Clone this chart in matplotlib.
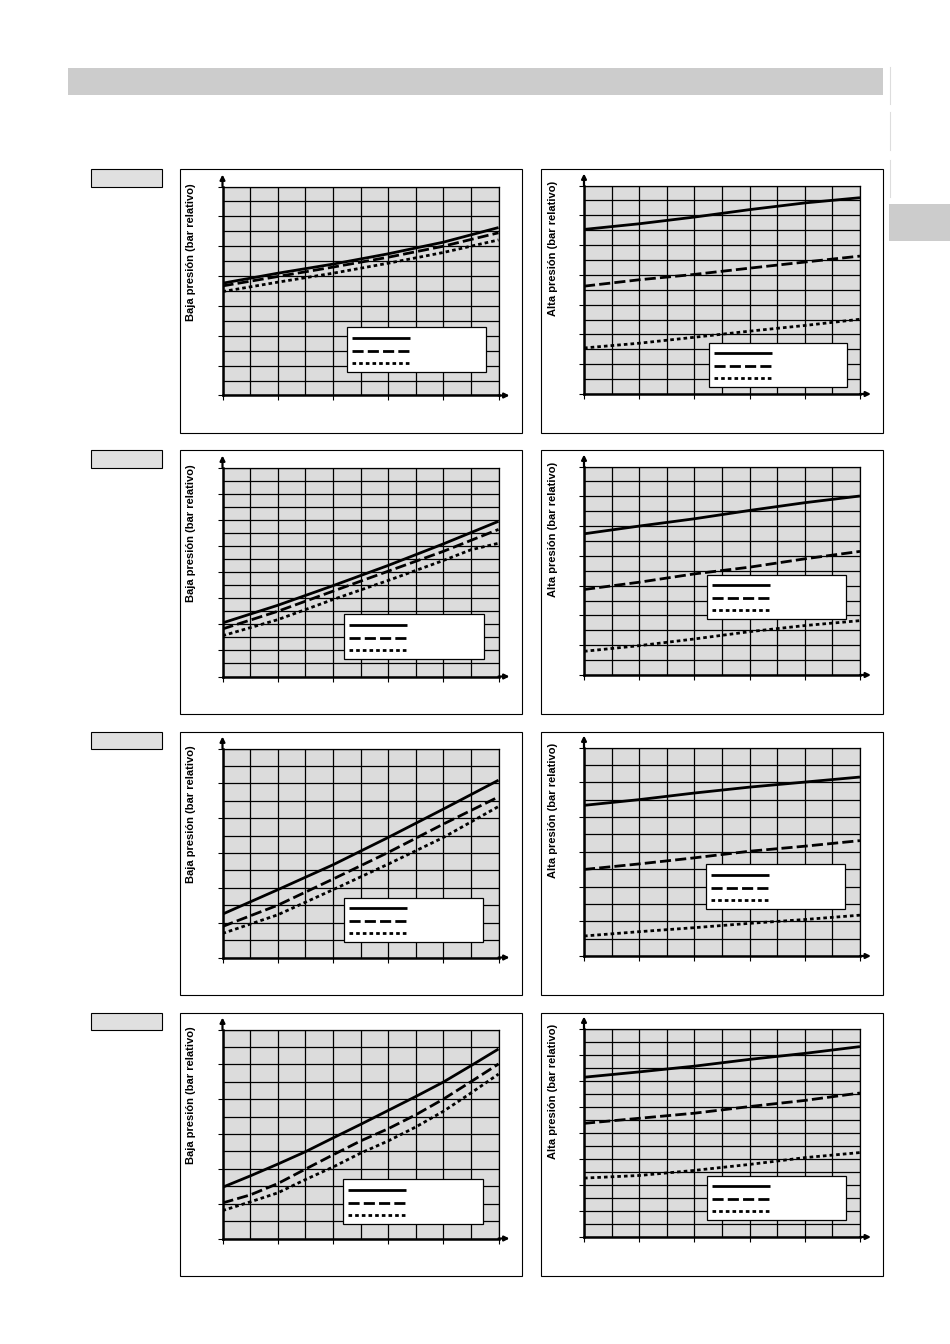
import numpy as np
import matplotlib
matplotlib.use("Agg")
import matplotlib.pyplot as plt
from matplotlib.patches import Rectangle
from matplotlib.lines import Line2D

W, H = 950, 1344

# x positions of the read points (grid columns, 0..10)
x_pts = [0, 2, 4, 6, 8, 10]
x_all = [0, 1, 2, 3, 4, 5, 6, 7, 8, 9, 10]

# values are in grid-row units (no tick labels in the source)
# row 1
low1_solid = [7.52, 8.19, 8.80, 9.49, 10.27, 11.25]
low1_dash = [7.34, 7.97, 8.60, 9.26, 10.00, 10.90]
low1_dot = [6.96, 7.59, 8.19, 8.86, 9.58, 10.42]
high1_solid = [11.05, 11.43, 11.88, 12.38, 12.83, 13.18]
high1_dash = [7.24, 7.67, 8.03, 8.45, 8.86, 9.26]
high1_dot = [3.09, 3.41, 3.81, 4.22, 4.60, 5.02]

# row 2
low2_solid = [4.10, 5.45, 6.95, 8.50, 10.15, 11.88]
low2_dash = [3.64, 4.99, 6.53, 8.06, 9.58, 11.26]
low2_dot_x = [0, 2, 4, 6, 8, 9, 10]
low2_dot = [3.12, 4.35, 5.89, 7.35, 8.88, 9.70, 10.20]
high2_solid = [9.48, 10.00, 10.49, 11.05, 11.57, 12.02]
high2_dash = [5.74, 6.23, 6.79, 7.24, 7.80, 8.30]
high2_dot = [1.59, 1.97, 2.42, 2.91, 3.32, 3.65]

# row 3
low3_solid = [2.49, 3.89, 5.32, 6.89, 8.52, 10.18]
low3_dash = [1.78, 3.00, 4.50, 6.03, 7.66, 9.22]
low3_dot = [1.38, 2.45, 3.89, 5.36, 6.89, 8.67]
high3_solid = [8.67, 9.00, 9.38, 9.72, 10.01, 10.30]
high3_dash = [4.98, 5.30, 5.65, 6.03, 6.32, 6.64]
high3_dot = [1.15, 1.40, 1.63, 1.88, 2.10, 2.35]

# row 4 (left one read at every column)
low4_solid = [2.94, 3.59, 4.27, 4.98, 5.77, 6.55, 7.35, 8.15, 8.98, 9.92, 10.88]
low4_dash = [2.04, 2.50, 3.15, 3.98, 4.80, 5.60, 6.30, 7.10, 8.00, 9.00, 10.02]
low4_dot = [1.60, 2.10, 2.62, 3.38, 4.10, 4.90, 5.60, 6.40, 7.30, 8.35, 9.44]
high4_solid = [12.26, 12.67, 13.11, 13.63, 14.09, 14.61]
high4_dash = [8.72, 9.11, 9.50, 10.01, 10.48, 11.05]
high4_dot = [4.52, 4.72, 5.11, 5.57, 6.09, 6.48]

n_cols = 10
grid_rows = [(14, 14), (16, 14), (12, 12), (12, 16)]
low_label = "Baja presión (bar relativo)"
high_label = "Alta presión (bar relativo)"

GRAY_BG = "#dcdcdc"
BAR_GRAY = "#cccccc"
STYLES = {
    "solid": "-",
    "dash": (0, (4.0, 1.5)),
    "dot": (0, (1.3, 1.1)),
}
LW = 2.0


def fx(x):
    return x / W


def fy(y):
    return 1 - y / H


def fig_rect(fig, x0, y0, x1, y1, **kw):
    r = Rectangle((fx(x0), fy(y1)), (x1 - x0) / W, (y1 - y0) / H,
                  transform=fig.transFigure, **kw)
    fig.add_artist(r)


def draw_panel(fig, px0, py0, px1, py1, ny, series, leg_box, label, label_x, label_y):
    ax = fig.add_axes([fx(px0), fy(py1), (px1 - px0) / W, (py1 - py0) / H])
    ax.set_facecolor(GRAY_BG)
    ax.set_xlim(0, n_cols)
    ax.set_ylim(0, ny)
    ax.set_xticks(range(0, n_cols + 1, 2))
    ax.set_yticks(range(0, ny + 1, 2))
    ax.set_xticks(range(n_cols + 1), minor=True)
    ax.set_yticks(range(ny + 1), minor=True)
    ax.set_xticklabels([])
    ax.set_yticklabels([])
    ax.tick_params(which="major", direction="out", length=3.5, width=0.8, color="k")
    ax.tick_params(which="minor", length=0)
    ax.grid(which="both", color="k", lw=0.9)
    ax.set_axisbelow(True)
    for s in ["top", "right"]:
        ax.spines[s].set_linewidth(0.9)
    for s in ["left", "bottom"]:
        ax.spines[s].set_linewidth(1.8)

    for xs, ys, key in series:
        ax.plot(xs, ys, color="k", lw=LW, linestyle=STYLES[key],
                dash_capstyle="butt", solid_capstyle="butt", zorder=3)

    # axis arrows
    w_px = px1 - px0
    h_px = py1 - py0
    ax.annotate("", xy=(0, 1 + 12 / h_px), xytext=(0, 1), xycoords="axes fraction",
                arrowprops=dict(arrowstyle="-|>", color="k", lw=1.6,
                                mutation_scale=7, shrinkA=0, shrinkB=0),
                annotation_clip=False)
    ax.annotate("", xy=(1 + 11 / w_px, 0), xytext=(1, 0), xycoords="axes fraction",
                arrowprops=dict(arrowstyle="-|>", color="k", lw=1.6,
                                mutation_scale=7, shrinkA=0, shrinkB=0),
                annotation_clip=False)

    # legend box (labels are blank in the source)
    bx0, by0, bx1, by1 = leg_box
    fig_rect(fig, bx0, by0, bx1, by1, facecolor="white", edgecolor="k",
             lw=0.9, zorder=5)
    bh = by1 - by0
    for frac, key in zip([0.235, 0.53, 0.805], ["solid", "dash", "dot"]):
        yy = fy(by0 + frac * bh)
        fig.add_artist(Line2D([fx(bx0 + 5), fx(bx0 + 63)], [yy, yy],
                              transform=fig.transFigure, color="k", lw=LW,
                              linestyle=STYLES[key], dash_capstyle="butt",
                              solid_capstyle="butt", zorder=6))

    fig.text(fx(label_x), fy(label_y), label, rotation=90, ha="center", va="center",
             fontsize=8, fontweight="bold", family="Liberation Sans")
    return ax


fig = plt.figure(figsize=(W / 100, H / 100), dpi=100)

# header bar and side tab
fig_rect(fig, 68, 68, 882.5, 95, facecolor=BAR_GRAY, edgecolor="none")
fig_rect(fig, 889, 204, 950, 241, facecolor=BAR_GRAY, edgecolor="none")
for ya, yb in [(67, 104), (112, 150), (160, 197)]:
    fig.add_artist(Line2D([fx(889.5), fx(889.5)], [fy(ya), fy(yb)],
                          transform=fig.transFigure, color="#dddddd", lw=0.8))

row_series = [
    ([(x_pts, low1_solid, "solid"), (x_pts, low1_dash, "dash"), (x_pts, low1_dot, "dot")],
     [(x_pts, high1_solid, "solid"), (x_pts, high1_dash, "dash"), (x_pts, high1_dot, "dot")]),
    ([(x_pts, low2_solid, "solid"), (x_pts, low2_dash, "dash"), (low2_dot_x, low2_dot, "dot")],
     [(x_pts, high2_solid, "solid"), (x_pts, high2_dash, "dash"), (x_pts, high2_dot, "dot")]),
    ([(x_pts, low3_solid, "solid"), (x_pts, low3_dash, "dash"), (x_pts, low3_dot, "dot")],
     [(x_pts, high3_solid, "solid"), (x_pts, high3_dash, "dash"), (x_pts, high3_dot, "dot")]),
    ([(x_all, low4_solid, "solid"), (x_all, low4_dash, "dash"), (x_all, low4_dot, "dot")],
     [(x_pts, high4_solid, "solid"), (x_pts, high4_dash, "dash"), (x_pts, high4_dot, "dot")]),
]

# legend boxes in page pixels (left, right)
legend_boxes = [
    ((346.5, 327, 486, 372), (708.5, 343, 847, 387)),
    ((343.5, 614, 483.5, 659), (706.5, 575, 846, 619)),
    ((343.5, 898, 482.5, 942), (705.5, 864, 844.5, 909)),
    ((342.5, 1179, 482.5, 1224), (706.5, 1176, 845.5, 1220)),
]

for i in range(4):
    top = 169 + 281 * i
    # small label box and panel frames
    fig_rect(fig, 91, top + 0.5, 162, top + 18, facecolor="#e0e0e0", edgecolor="k", lw=0.8)
    fig_rect(fig, 179.5, top + 0.5, 521.5, top + 264, facecolor="none", edgecolor="k", lw=0.8)
    fig_rect(fig, 541, top + 0.5, 882.5, top + 264, facecolor="none", edgecolor="k", lw=0.8)

    ny_low, ny_high = grid_rows[i]
    low_s, high_s = row_series[i]
    leg_l, leg_r = legend_boxes[i]
    draw_panel(fig, 222.5, top + 17.5, 498.5, top + 226.5, ny_low, low_s, leg_l,
               low_label, 191.5, top + 83)
    draw_panel(fig, 584, top + 16.5, 860, top + 225, ny_high, high_s, leg_r,
               high_label, 553.5, top + 79)

fig.savefig("out.png", dpi=100)
